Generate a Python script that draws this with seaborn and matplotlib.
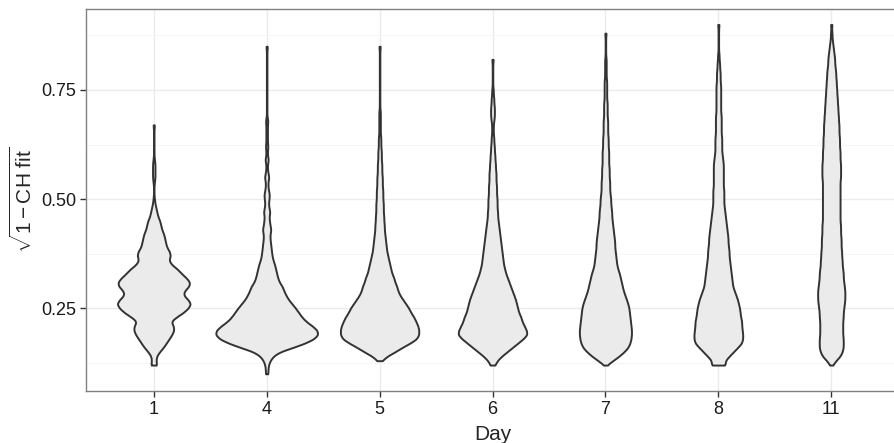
import numpy as np
import pandas as pd
import matplotlib.pyplot as plt
import seaborn as sns

# Days shown on the x axis
days = ['1', '4', '5', '6', '7', '8', '11']

# Density profile of each violin, read off the picture as half-widths (px,
# to the outer edge of the outline) at y levels starting from <day>_lo and
# going up in steps of 0.01.
day1_lo = 0.12
day1_w = [4, 3, 3.5, 6.5, 10.5, 13.5, 16.5, 19.5, 21.5,
          21, 18, 24, 31, 36, 39, 36, 31, 32, 37,
          38, 34, 29, 25, 19, 16, 18, 17, 14, 13,
          12, 11, 9, 8, 7, 5, 4, 3, 2, 1.5,
          1, 1, 1, 1.5, 2, 2, 2, 2, 1.5, 1, 1, 1, 1, 1, 1, 1, 1.5]

day4_lo = 0.10
day4_w = [2, 2, 2.5, 4, 7, 13, 26, 38, 47, 51, 50,
          45, 39, 35, 32, 29, 25.5, 22, 19.5, 17.5, 16,
          13, 11.5, 10.5, 9.5, 8.5, 7, 6, 5.5, 5, 4.5,
          4, 4, 5, 4, 3.5, 3, 4, 3, 2.5, 3,
          3.5, 2.5, 2, 2, 3, 2, 1.5, 1.5, 2.5, 1.5,
          1.5, 2, 1.5, 1.5, 1.5, 1.5, 1.5, 2, 1, 1,
          1, 1, 1, 1, 1, 1, 1, 1, 1, 1, 1, 1, 1, 1, 1.5]

day5_lo = 0.13
day5_w = [3, 8, 16, 23, 31, 38, 40, 40,
          39, 37, 35, 32, 30, 27, 24, 21, 19, 18,
          16, 15, 13, 12, 11, 10, 9, 8, 7.5, 7,
          6.5, 6, 5.5, 5.5, 5, 5, 4.5, 4.5, 4.5, 4,
          4, 4, 3.5, 3.5, 3.5, 3, 3, 3, 2.5, 2.5,
          2.5, 2, 2, 2, 1.5, 1.5, 1.5, 1.5, 1.5, 1.5,
          1, 1, 1, 1, 1, 1, 1, 1, 1, 1, 1, 1, 1, 1, 1.5]

day6_lo = 0.12
day6_w = [3, 5, 9, 14, 19, 24, 29, 33, 32,
          30, 28, 27, 25, 24, 23, 22, 20.5, 19, 17.5,
          16, 14.5, 13, 12, 11, 10.5, 10, 9.5, 9, 8.5,
          8, 7.5, 7, 6.5, 6, 5.5, 5.5, 5, 5, 5,
          4.5, 4.5, 4.5, 4, 4, 4, 3.5, 3.5, 3, 3,
          2.5, 2.5, 2, 2, 1.5, 1.5, 1.5, 2, 2.5, 2.5,
          2.5, 2, 2, 1.5, 1.5, 1, 1, 1, 1, 1, 1, 1.5]

day7_lo = 0.12
day7_w = [2, 8, 14, 19, 23, 25, 26, 26.5, 26.5,
          26, 25.5, 25, 24.5, 24, 23, 21.5, 20, 18.5, 17.5,
          16.5, 15.5, 14.5, 13, 12, 11.5, 11, 10.5, 10, 10,
          9.5, 9, 8.5, 8, 7.5, 7, 7, 6.5, 6, 6,
          5.5, 5, 5, 5, 4.5, 4.5, 4.5, 4, 4, 4,
          4, 3.5, 3.5, 3.5, 3, 3, 3, 3, 2.5, 2.5,
          2.5, 2.5, 2, 2, 2, 2, 2, 1.5, 1.5, 1.5, 1.5, 1.5,
          1, 1, 1, 1, 1, 1.5]

day8_lo = 0.12
day8_w = [8, 7, 11, 15, 19, 23, 24, 24, 23.5,
          23, 23, 22, 21.5, 21, 20, 19, 17.5, 16, 14.5,
          14, 13.5, 13, 12.5, 12, 11.5, 11, 11, 10.5, 10,
          10, 9.5, 9, 8.5, 8, 7.5, 7, 6.5, 6, 6,
          6, 6, 5.5, 5.5, 5.5, 5.5, 5.5, 5.5, 5, 4.5,
          4, 4, 4, 4, 3.5, 3.5, 3.5, 3.5, 3.5, 3,
          3, 3, 3, 3, 3, 3, 2.5, 2.5, 2.5, 2,
          2, 1.5, 1.5, 1, 1, 1, 1, 1, 1, 1.5]

day11_lo = 0.12
day11_w = [2, 5, 9, 11, 12, 12, 12, 11.5, 11.5,
           11.5, 11.5, 12, 12, 12.5, 13, 13.5, 13.5, 13.5, 13,
           12.5, 12, 12, 11.5, 11, 11, 10.5, 10.5, 10, 10,
           10, 9.5, 9.5, 9.5, 9, 9, 9, 9, 9, 9,
           9, 9, 9, 9, 9.5, 9.5, 9.5, 9.5, 9, 9,
           9, 8.5, 8.5, 8.5, 8, 8, 8, 7.5, 7.5, 7,
           7, 6.5, 6.5, 6, 6, 5.5, 5.5, 5, 5, 4.5,
           4, 4, 3.5, 3, 2.5, 2, 1.5, 1.5, 1, 1.5]

profiles = {
    '1': (day1_lo, day1_w), '4': (day4_lo, day4_w), '5': (day5_lo, day5_w),
    '6': (day6_lo, day6_w), '7': (day7_lo, day7_w), '8': (day8_lo, day8_w),
    '11': (day11_lo, day11_w),
}


def build_frame():
    '''Expand the read profiles into observations (level repeated by weight)'''
    rows = []
    for day in days:
        lo, w = profiles[day]
        levels = np.round(lo + 0.01 * np.arange(len(w)), 2)
        # readings include half of the outline stroke
        inner = np.clip(np.array(w) - 0.7, 0.15, None)
        counts = np.round(inner * 8).astype(int)
        vals = np.repeat(levels, counts)
        rows.append(pd.DataFrame({'Day': day, 'fit': vals}))
    return pd.concat(rows, ignore_index=True)


def fixed_bw(kde):
    # same absolute bandwidth for each day
    return 0.0062 / np.std(kde.dataset, ddof=1)


def generate_plot(df):
    sns.set_theme(style='white')
    plt.rcParams['font.family'] = ['Liberation Sans', 'DejaVu Sans']
    plt.rcParams['mathtext.fontset'] = 'custom'
    plt.rcParams['mathtext.rm'] = 'Liberation Sans'
    plt.rcParams['mathtext.it'] = 'Liberation Sans:italic'

    fig = plt.figure(figsize=(8.94, 4.43), dpi=100)
    ax = fig.add_axes([86 / 894, 1 - 391 / 443, 813 / 894, 382.3 / 443])

    sns.violinplot(data=df, x='Day', y='fit', order=days, ax=ax,
                   color='#EBEBEB', saturation=1, linecolor='#333333',
                   linewidth=1.4, inner=None, cut=0, width=0.9,
                   density_norm='area', bw_method=fixed_bw, gridsize=400)

    ax.set_xlim(-0.6, 6.6)
    ax.set_ylim(0.0606, 0.936)
    ax.set_yticks([0.25, 0.50, 0.75])
    ax.set_yticklabels(['0.25', '0.50', '0.75'])
    ax.set_yticks([0.125, 0.375, 0.625, 0.875], minor=True)

    ax.set_axisbelow(True)
    ax.grid(True, which='major', color='#EBEBEB', linewidth=1.0)
    ax.grid(True, which='minor', axis='y', color='#F5F5F5', linewidth=0.7)

    for side in ['top', 'left', 'bottom', 'right']:
        ax.spines[side].set_color('#808080')
        ax.spines[side].set_linewidth(1.0)

    ax.tick_params(axis='both', which='major', length=4, width=1.0,
                   color='#333333', labelsize=13, labelcolor='#1a1a1a',
                   pad=3, left=True, bottom=True)
    ax.tick_params(axis='y', which='minor', length=0)

    ax.set_xlabel('Day', fontsize=15, labelpad=5)
    ax.set_ylabel(r'$\sqrt{1-\mathrm{CH\ fit}}$', fontsize=15, labelpad=4)

    fig.savefig('out.png', dpi=100)


def main():
    df = build_frame()
    generate_plot(df)


if __name__ == '__main__':
    main()
